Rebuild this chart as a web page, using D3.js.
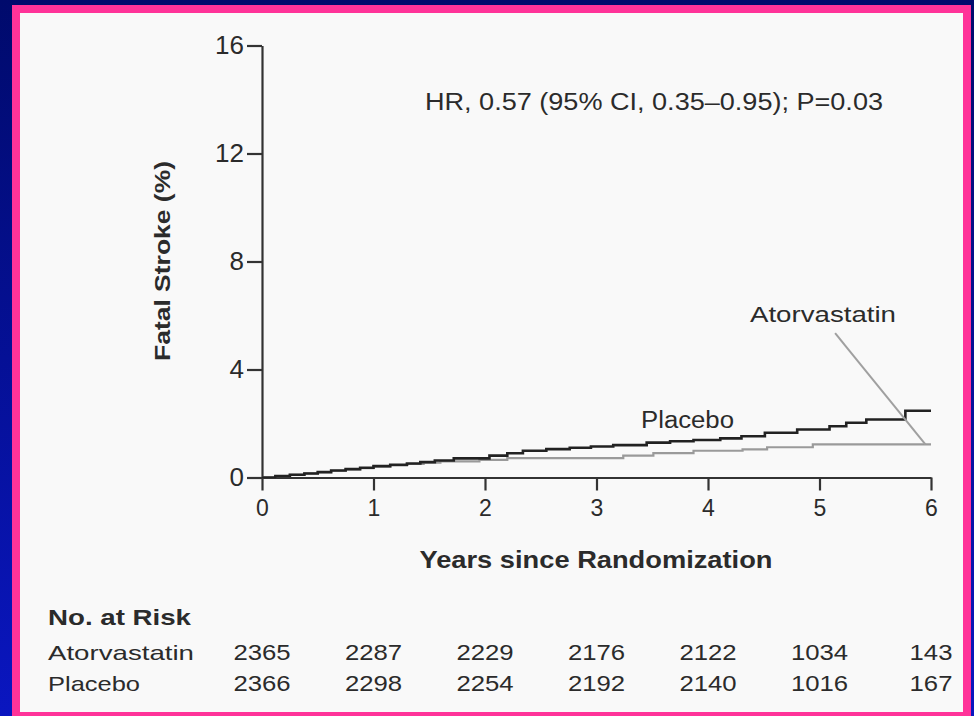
<!DOCTYPE html>
<html>
<head>
<meta charset="utf-8">
<script src="https://cdn.jsdelivr.net/npm/d3@7/dist/d3.min.js"></script>
<style>
  html, body { margin: 0; padding: 0; background: #000a6e; }
  svg { display: block; }
  text { font-family: "Liberation Sans", Arial, sans-serif; fill: #2b2b2b; }
</style>
</head>
<body>
<svg id="chart" width="974" height="716"></svg>
<script>
// ---------- data ----------
const yearTicks = [0, 1, 2, 3, 4, 5, 6];
const pctTicks = [0, 4, 8, 12, 16];

// Kaplan-Meier style cumulative incidence (%), step points
const placeboYears = [0, 0.12, 0.25, 0.38, 0.5, 0.62, 0.75, 0.88, 1.0, 1.15, 1.3, 1.42, 1.55, 1.72, 2.04, 2.2, 2.34, 2.55, 2.76, 2.95, 3.15, 3.45, 3.66, 3.87, 4.11, 4.3, 4.51, 4.8, 5.09, 5.24, 5.42, 5.77, 6.0];
const placeboPct   = [0, 0.05, 0.1, 0.15, 0.2, 0.26, 0.31, 0.36, 0.42, 0.47, 0.52, 0.57, 0.63, 0.71, 0.81, 0.9, 0.99, 1.05, 1.10, 1.15, 1.20, 1.29, 1.34, 1.39, 1.45, 1.53, 1.66, 1.78, 1.90, 2.03, 2.15, 2.47, 2.47];

const atorvaYears = [0, 0.12, 0.25, 0.38, 0.5, 0.62, 0.75, 0.88, 1.0, 1.15, 1.3, 1.45, 1.6, 1.95, 2.2, 3.24, 3.51, 3.87, 4.31, 4.53, 4.94, 6.0];
const atorvaPct   = [0, 0.05, 0.1, 0.15, 0.2, 0.25, 0.3, 0.35, 0.4, 0.45, 0.5, 0.55, 0.6, 0.65, 0.72, 0.81, 0.90, 0.99, 1.04, 1.12, 1.23, 1.23];

const riskGroups = ["Atorvastatin", "Placebo"];
const riskAtorva = [2365, 2287, 2229, 2176, 2122, 1034, 143];
const riskPlacebo = [2366, 2298, 2254, 2192, 2140, 1016, 167];

const hrText = "HR, 0.57 (95% CI, 0.35\u20130.95); P=0.03";
// leader line for the Atorvastatin label (years, %)
const leaderYears = [5.14, 5.95];
const leaderPct = [5.35, 1.23];

// ---------- drawing ----------
const svg = d3.select("#chart");
const W = 974, H = 716;

const defs = svg.append("defs");
const grad = defs.append("linearGradient").attr("id", "bg").attr("x1", 0).attr("y1", 0).attr("x2", 0).attr("y2", 1);
grad.append("stop").attr("offset", "0%").attr("stop-color", "#000a6c");
grad.append("stop").attr("offset", "100%").attr("stop-color", "#0a16c0");

svg.append("rect").attr("width", W).attr("height", H).attr("fill", "url(#bg)");
svg.append("rect").attr("x", 12).attr("y", 5).attr("width", 959).attr("height", 716).attr("fill", "#ff3399");
svg.append("rect").attr("x", 20).attr("y", 13).attr("width", 943).attr("height", 699).attr("fill", "#f9f9f9");

const x = d3.scaleLinear().domain([0, 6]).range([262, 931]);
const y = d3.scaleLinear().domain([0, 16]).range([477.5, 45.5]);

// y axis
const yAxis = svg.append("g").attr("transform", `translate(${x(0)},0)`)
  .call(d3.axisLeft(y).tickValues(pctTicks).tickFormat(d3.format("d")).tickSize(15).tickSizeOuter(0).tickPadding(3));
yAxis.selectAll("text").style("font-size", "26px").attr("fill", "#2b2b2b");

// x axis
const xAxis = svg.append("g").attr("transform", `translate(0,${y(0)})`)
  .call(d3.axisBottom(x).tickValues(yearTicks).tickFormat(d3.format("d")).tickSize(13).tickSizeOuter(0).tickPadding(9));
xAxis.selectAll("text").style("font-size", "23px").attr("fill", "#2b2b2b");

svg.selectAll(".domain, .tick line").attr("stroke", "#333").attr("stroke-width", 2.2);

// curves
const line = d3.line().x(d => x(d[0])).y(d => y(d[1])).curve(d3.curveStepAfter);
const atorvaData = atorvaYears.map((t, i) => [t, atorvaPct[i]]);
const placeboData = placeboYears.map((t, i) => [t, placeboPct[i]]);

svg.append("path").datum(atorvaData).attr("d", line)
  .attr("fill", "none").attr("stroke", "#9a9a9a").attr("stroke-width", 2.2);
svg.append("path").datum(placeboData).attr("d", line)
  .attr("fill", "none").attr("stroke", "#222").attr("stroke-width", 2.6);

// leader line
svg.append("line")
  .attr("x1", x(leaderYears[0])).attr("y1", y(leaderPct[0]))
  .attr("x2", x(leaderYears[1])).attr("y2", y(leaderPct[1]))
  .attr("stroke", "#a0a0a0").attr("stroke-width", 2);

// labels
svg.append("text").attr("x", 750).attr("y", 322).style("font-size", "22px")
  .attr("textLength", 146).attr("lengthAdjust", "spacingAndGlyphs").text("Atorvastatin");
svg.append("text").attr("x", 641).attr("y", 428).style("font-size", "23px")
  .attr("textLength", 93).attr("lengthAdjust", "spacingAndGlyphs").text("Placebo");

svg.append("text").attr("x", 425).attr("y", 110).style("font-size", "23px")
  .attr("textLength", 458).attr("lengthAdjust", "spacingAndGlyphs").text(hrText);

// axis titles
svg.append("text").attr("transform", `translate(170,261) rotate(-90)`)
  .attr("text-anchor", "middle").style("font-size", "22px").style("font-weight", "bold")
  .attr("textLength", 200).attr("lengthAdjust", "spacingAndGlyphs").text("Fatal Stroke (%)");
svg.append("text").attr("x", 596).attr("y", 568).attr("text-anchor", "middle")
  .style("font-size", "24px").style("font-weight", "bold")
  .attr("textLength", 353).attr("lengthAdjust", "spacingAndGlyphs").text("Years since Randomization");

// number at risk table
svg.append("text").attr("x", 48).attr("y", 625).style("font-size", "22px").style("font-weight", "bold")
  .attr("textLength", 143).attr("lengthAdjust", "spacingAndGlyphs").text("No. at Risk");

const rowY = [660, 691];
const rowLabelW = [146, 92];
riskGroups.forEach((g, r) => {
  svg.append("text").attr("x", 48).attr("y", rowY[r]).style("font-size", "21px")
    .attr("textLength", rowLabelW[r]).attr("lengthAdjust", "spacingAndGlyphs").text(g);
});
const rows = [riskAtorva, riskPlacebo];
rows.forEach((vals, r) => {
  svg.append("g").selectAll("text").data(vals).join("text")
    .attr("x", (d, i) => x(yearTicks[i]))
    .attr("y", rowY[r])
    .attr("text-anchor", "middle")
    .style("font-size", "22px")
    .attr("textLength", d => String(d).length * 14.3)
    .attr("lengthAdjust", "spacingAndGlyphs")
    .text(d => d);
});
</script>
</body>
</html>
